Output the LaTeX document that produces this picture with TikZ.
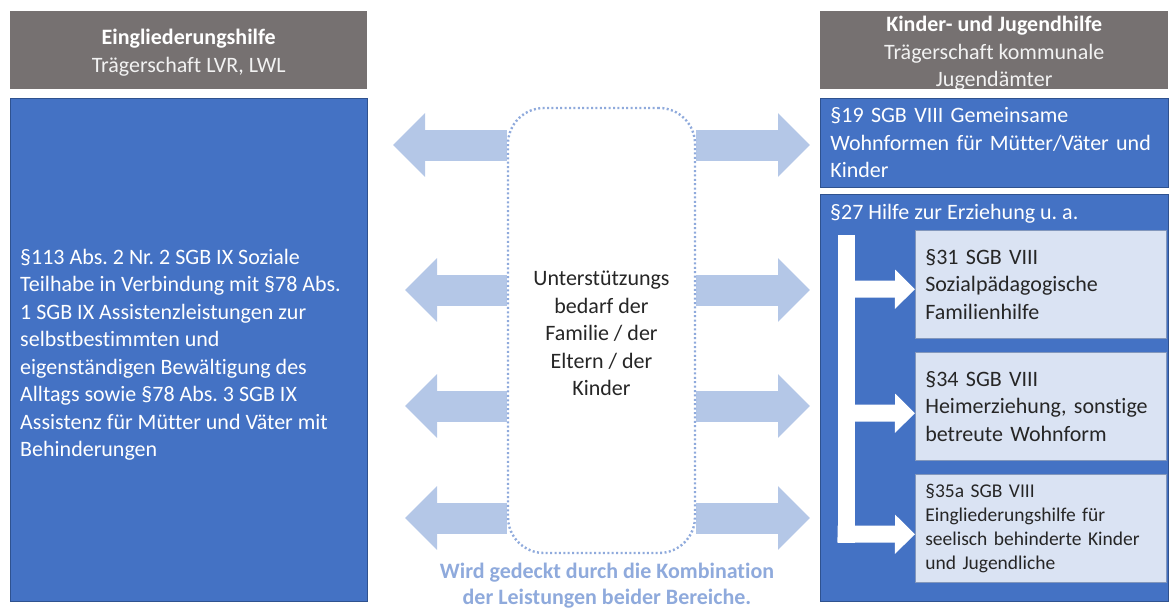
\documentclass[tikz,border=0pt]{standalone}
\usepackage{fontspec}
\setmainfont{Carlito}[Ligatures=NoCommon]
\frenchspacing
\usetikzlibrary{arrows.meta,calc,backgrounds}
\definecolor{hdrgray}{HTML}{767171}
\definecolor{mainblue}{HTML}{4472C4}
\definecolor{edgeblue}{HTML}{2F528F}
\definecolor{paleblue}{HTML}{DAE3F3}
\definecolor{arrowblue}{HTML}{B4C7E7}
\definecolor{dotblue}{HTML}{8FAADC}
\definecolor{txtdark}{HTML}{262626}
\begin{document}
\begin{tikzpicture}[x=1pt,y=-1pt,
  body/.style={font=\fontsize{22}{27.5}\selectfont},
  small/.style={font=\fontsize{19.5}{24}\selectfont},
  hdr/.style={fill=hdrgray, draw=none, inner sep=0pt, anchor=north west},
  hdrtext/.style={text=white, align=center, body, inner sep=0pt},
  bluebox/.style={fill=mainblue, draw=edgeblue, line width=0.8pt, anchor=north west, inner sep=0pt},
  textbox/.style={bluebox, text=white, align=left, body, inner xsep=10pt, inner ysep=0pt},
  subbox/.style={fill=paleblue, draw=edgeblue!60, line width=0.6pt, text=txtdark, align=left,
                 anchor=north west, inner xsep=10pt, inner ysep=0pt,
                 minimum width=251pt, minimum height=108pt, text width=231pt},
  centerbox/.style={fill=white, draw=dotblue, line width=2.4pt, dash pattern=on 2pt off 2.4pt,
                    rounded corners=36pt, minimum width=187pt, minimum height=445pt},
  bigarrow/.style={arrowblue, line width=31pt, -{Triangle[width=62pt,length=32pt]}},
  brarrow/.style={white, line width=17pt, -{Triangle[width=38pt,length=20pt]}}
]
\useasboundingbox (0,0) rectangle (1169,610);

% left column
\node[hdr, minimum width=357pt, minimum height=78pt] (lhead) at (10,11) {};
\node[hdrtext] (lheadtext) at ([yshift=-2.5pt]lhead.center)
  {\textbf{Eingliederungshilfe}\\\color{white!95!black}Trägerschaft LVR, LWL};
\node[bluebox, minimum width=357pt, minimum height=503pt] (lbox) at (10,98) {};
\node[body, text=white, align=left, anchor=west, inner sep=0pt] (ltext) at (20,354.5)
  {§113 Abs. 2 Nr. 2 SGB IX Soziale\\
   Teilhabe in Verbindung mit §78 Abs.\\
   1 SGB IX Assistenzleistungen zur\\
   selbstbestimmten und\\
   eigenständigen Bewältigung des\\
   Alltags sowie §78 Abs. 3 SGB IX\\
   Assistenz für Mütter und Väter mit\\
   Behinderungen};

% right column
\node[hdr, minimum width=348pt, minimum height=78pt] (rhead) at (820,11) {};
\node[hdrtext] (rheadtext) at ([yshift=-3pt]rhead.center)
  {\textbf{Kinder- und Jugendhilfe}\\\color{white!95!black}Trägerschaft kommunale\\\color{white!95!black}Jugendämter};
\node[textbox, minimum width=348pt, minimum height=89pt, text width=328pt] (b19) at (820,98)
  {§19 SGB VIII Gemeinsame\\Wohnformen für Mütter/Väter und\\Kinder};
\node[bluebox, minimum width=348pt, minimum height=407pt] (b27) at (820,194) {};
\node[body, text=white, anchor=west, inner sep=0pt] (t27) at (830,214) {§27 Hilfe zur Erziehung u. a.};
\node[subbox, body] (b31) at (915,230) {§31 SGB VIII\\Sozialpädagogische\\Familienhilfe};
\node[subbox, body] (b34) at (915,352) {§34 SGB VIII\\Heimerziehung, sonstige\\betreute Wohnform};
\node[subbox, small] (b35) at (915,474) {§35a SGB VIII\\Eingliederungshilfe für\\seelisch behinderte Kinder\\und Jugendliche};

% bracket with arrows
\coordinate (spinetop) at (846,235);
\coordinate (spinebot) at (846,543);
\draw[white, line width=17pt] (spinetop) -- (spinebot);
\draw[brarrow] (spinetop |- 0,289) -- ([yshift=-5pt]b31.west);
\draw[brarrow] (spinetop |- 0,413) -- ([yshift=-7pt]b34.west);
\draw[brarrow] ([xshift=-8.5pt]spinetop |- 0,534) -- ([yshift=-6pt]b35.west);

% center
\node[centerbox] (c) at (601.5,330.5) {};
\node[body, align=center, text=txtdark, inner sep=0pt] (ctext) at ([yshift=-3pt]c.center)
  {Unterstützungs\\bedarf der\\Familie / der\\Eltern / der\\Kinder};

\coordinate (lt1) at (393,145);
\coordinate (lt2) at (405,290);
\coordinate (lt3) at (405,406);
\coordinate (lt4) at (405,518);
\coordinate (rt1) at (810,145);
\coordinate (rt2) at (810,290);
\coordinate (rt3) at (810,406);
\coordinate (rt4) at (810,518);
\begin{scope}[on background layer]
  \foreach \i in {1,2,3,4} {
    \draw[bigarrow] (c.west |- lt\i) -- (lt\i);
    \draw[bigarrow] (c.east |- rt\i) -- (rt\i);
  }
\end{scope}

\node[font=\bfseries\fontsize{22}{26}\selectfont, text=dotblue, align=center, inner sep=0pt] (note) at (607,585.5)
  {Wird gedeckt durch die Kombination\\der Leistungen beider Bereiche.};
\end{tikzpicture}
\end{document}
